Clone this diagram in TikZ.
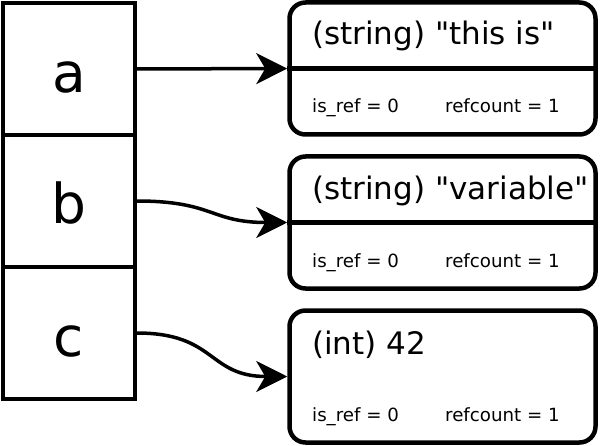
\documentclass[tikz,border=0pt]{standalone}
\usepackage{fontspec}
\setmainfont[Ligatures=TeXOff]{DejaVu Sans}
\usetikzlibrary{arrows.meta}
\begin{document}
\begin{tikzpicture}[x=1pt,y=-1pt,
  cellbox/.style={draw,line width=3.5pt,minimum width=132pt,minimum height=132pt,inner sep=0pt},
  valbox/.style={draw,line width=4.5pt,rounded corners=16pt,minimum width=306pt,minimum height=132pt,inner sep=0pt},
  letter/.style={anchor=base,font=\fontsize{55}{60}\selectfont,inner sep=0pt},
  title/.style={anchor=base west,font=\fontsize{31}{36}\selectfont,inner sep=0pt},
  small/.style={anchor=base west,font=\fontsize{18.2}{22}\selectfont,inner sep=0pt},
  link/.style={line width=3.5pt,-{Stealth[length=31pt,width=31pt,inset=9pt]}}]
\useasboundingbox (0,0) rectangle (601,446);
% variable cells
\node[cellbox] (ca) at (69,69) {};
\node[cellbox] (cb) at (69,201) {};
\node[cellbox] (cc) at (69,333) {};
\node[letter] (la) at ([yshift=-23.5pt]ca.center) {a};
\node[letter] (lb) at ([yshift=-22.5pt]cb.center) {b};
\node[letter] (lc) at ([yshift=-23pt]cc.center) {c};
% value boxes
\node[valbox] (v1) at (442.5,68.5) {};
\node[valbox] (v2) at (442.5,222.5) {};
\node[valbox] (v3) at (442.5,376.5) {};
\draw[line width=4.5pt] (v1.west) -- (v1.east);
\draw[line width=4.5pt] (v2.west) -- (v2.east);
\node[title] (t1) at ([xshift=-130.5pt,yshift=23.5pt]v1.center) {(string) "this is"};
\node[title] (t2) at ([xshift=-130.5pt,yshift=23.5pt]v2.center) {(string) "variable"};
\node[title] (t3) at ([xshift=-130.5pt,yshift=22pt]v3.center) {(int) 42};
\node[small] (r1) at ([xshift=-130.5pt,yshift=-44.5pt]v1.center) {is\_ref = 0};
\node[small] (r2) at ([xshift=-130.5pt,yshift=-44.5pt]v2.center) {is\_ref = 0};
\node[small] (r3) at ([xshift=-130.5pt,yshift=-44.5pt]v3.center) {is\_ref = 0};
\node[small] (n1) at ([xshift=2.5pt,yshift=-44.5pt]v1.center) {refcount = 1};
\node[small] (n2) at ([xshift=2.5pt,yshift=-44.5pt]v2.center) {refcount = 1};
\node[small] (n3) at ([xshift=2.5pt,yshift=-44.5pt]v3.center) {refcount = 1};
% links
\draw[link] (ca.east) -- (v1.west);
\draw[link] (cb.east) to[out=0,in=180,looseness=1.3] (v2.west);
\draw[link] (cc.east) to[out=0,in=180,looseness=1.3] (v3.west);
\end{tikzpicture}
\end{document}
